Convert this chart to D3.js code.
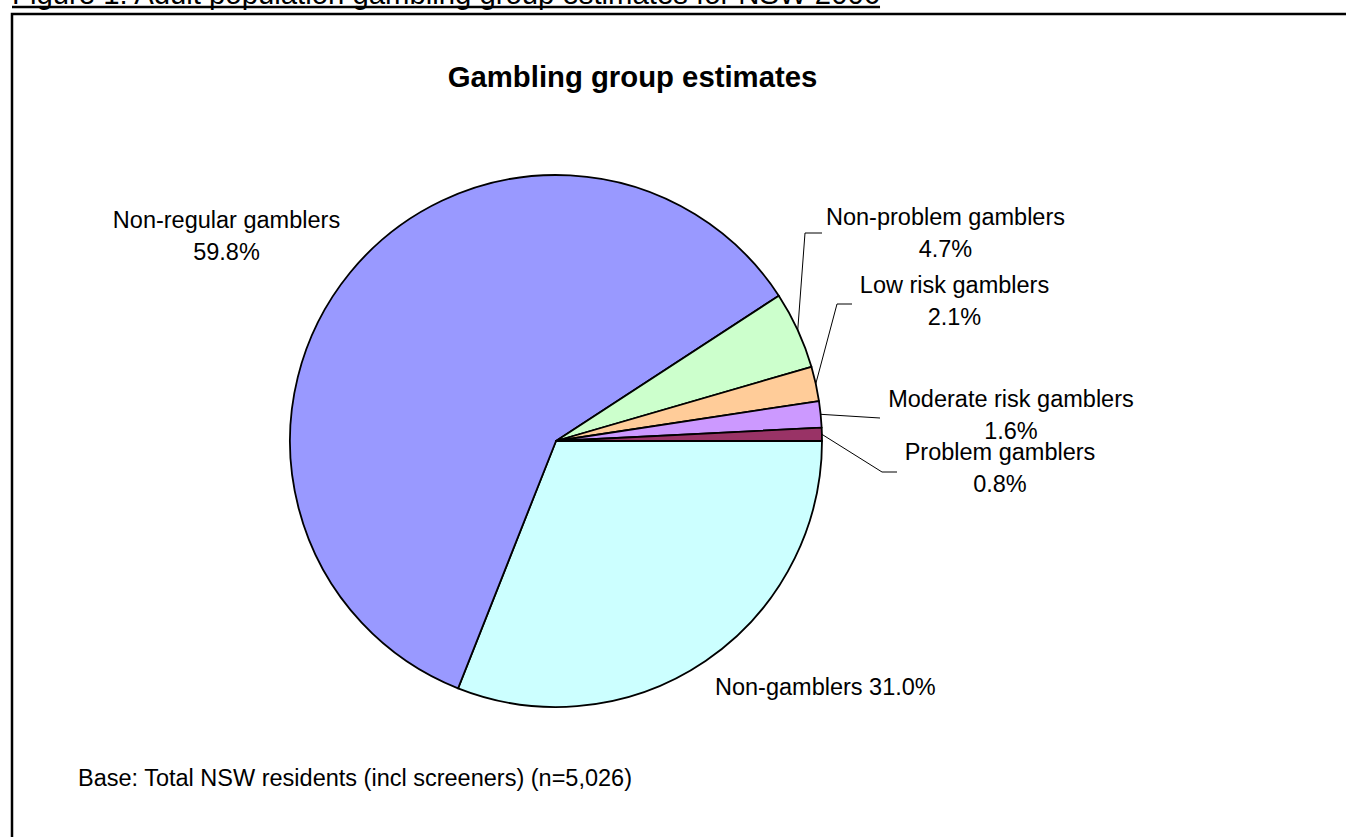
<!DOCTYPE html>
<html>
<head>
<meta charset="utf-8">
<script src="https://cdn.jsdelivr.net/npm/d3@7"></script>
<style>
  html, body { margin: 0; padding: 0; background: #fff; }
  svg { display: block; font-family: Arial, "Liberation Sans", sans-serif; }
</style>
</head>
<body>
<svg id="chart" width="1346" height="837"></svg>
<script>
// ---- data ----
const categories = ["Non-gamblers", "Non-regular gamblers", "Non-problem gamblers",
                    "Low risk gamblers", "Moderate risk gamblers", "Problem gamblers"];
const values = [31.0, 59.8, 4.7, 2.1, 1.6, 0.8];
const sliceColors = ["#CCFFFF", "#9999FF", "#CCFFCC", "#FFCC99", "#CC99FF", "#993366"];
const captionText = "Figure 1: Adult population gambling group estimates for NSW 2006";
const chartTitle = "Gambling group estimates";
const baseNote = "Base: Total NSW residents (incl screeners) (n=5,026)";

// ---- layout ----
const W = 1346, H = 837;
const cx = 556, cy = 441, R = 266;
// label placement: [x, baseline y, anchor, singleLine, leader elbow, leader end]
const labelLayout = [
  {x: 715, y: 695, anchor: "start", single: true, leader: null},
  {x: 226.5, y: 228, anchor: "middle", single: false, leader: null},
  {x: 945.5, y: 225, anchor: "middle", single: false, leader: [[805, 233], [822, 233]]},
  {x: 954.5, y: 293, anchor: "middle", single: false, leader: [[837, 304], [852, 304]]},
  {x: 1011, y: 407, anchor: "middle", single: false, leader: [[880, 418]]},
  {x: 1000, y: 460, anchor: "middle", single: false, leader: [[882, 472], [897, 472]]}
];
const lineGap = 32;

const svg = d3.select("#chart");

// frame border
svg.append("rect")
  .attr("x", 12).attr("y", 14)
  .attr("width", W + 100).attr("height", H + 100)
  .attr("fill", "none").attr("stroke", "#000").attr("stroke-width", 2.5);

// caption (top, partially cropped)
const cap = svg.append("text")
  .attr("x", 12).attr("y", 4)
  .attr("font-size", 29.3)
  .attr("fill", "#000")
  .text(captionText);
const capW = cap.node().getComputedTextLength();
svg.append("line")
  .attr("x1", 12).attr("x2", 12 + capW)
  .attr("y1", 7).attr("y2", 7)
  .attr("stroke", "#000").attr("stroke-width", 2.5);

// chart title
svg.append("text")
  .attr("x", 632.5).attr("y", 87)
  .attr("text-anchor", "middle")
  .attr("font-size", 29.3).attr("font-weight", "bold")
  .text(chartTitle);

// pie
const pie = d3.pie().sort(null)
  .startAngle(Math.PI / 2).endAngle(Math.PI / 2 + 2 * Math.PI)
  .value(d => d);
const arcs = pie(values);
const arc = d3.arc().innerRadius(0).outerRadius(R);

const g = svg.append("g").attr("transform", `translate(${cx},${cy})`);
g.selectAll("path.slice")
  .data(arcs)
  .join("path")
  .attr("class", "slice")
  .attr("d", arc)
  .attr("fill", (d, i) => sliceColors[i])
  .attr("stroke", "#000")
  .attr("stroke-width", 1.8)
  .attr("stroke-linejoin", "round");

// leader lines
arcs.forEach((d, i) => {
  const L = labelLayout[i];
  if (!L.leader) return;
  const mid = (d.startAngle + d.endAngle) / 2;
  const p0 = [cx + R * Math.sin(mid), cy - R * Math.cos(mid)];
  const pts = [p0].concat(L.leader);
  svg.append("path")
    .attr("d", d3.line()(pts))
    .attr("fill", "none")
    .attr("stroke", "#000")
    .attr("stroke-width", 1);
});

// labels
arcs.forEach((d, i) => {
  const L = labelLayout[i];
  const pct = d3.format(".1f")(values[i]) + "%";
  const t = svg.append("text")
    .attr("x", L.x).attr("y", L.y)
    .attr("text-anchor", L.anchor)
    .attr("font-size", 23.5)
    .attr("fill", "#000");
  if (L.single) {
    t.text(categories[i] + " " + pct);
  } else {
    t.append("tspan").attr("x", L.x).attr("y", L.y).text(categories[i]);
    t.append("tspan").attr("x", L.x).attr("y", L.y + lineGap).text(pct);
  }
});

// base note
svg.append("text")
  .attr("x", 78).attr("y", 786)
  .attr("font-size", 23.5)
  .text(baseNote);
</script>
</body>
</html>
